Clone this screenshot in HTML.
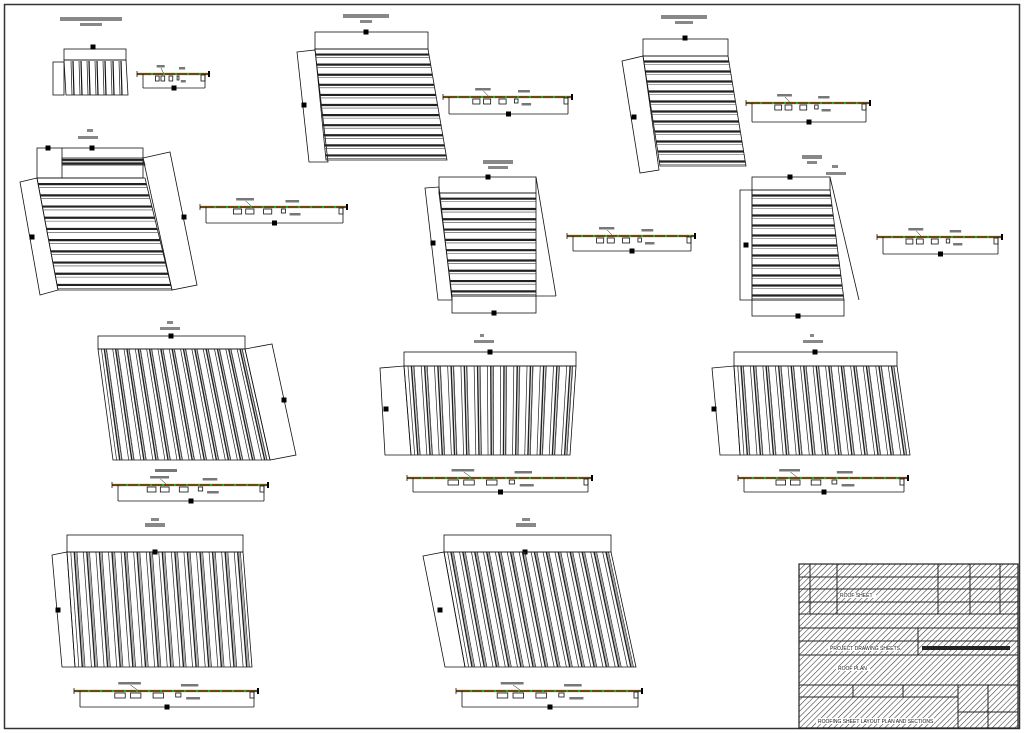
<!DOCTYPE html>
<html><head><meta charset="utf-8"><style>
html,body{margin:0;padding:0;background:#fff;width:1024px;height:733px;overflow:hidden}
svg{display:block}
text{font-family:"Liberation Sans",sans-serif;font-size:5px;fill:#111}
</style></head><body>
<svg id="s" width="1024" height="733" viewBox="0 0 1024 733" xmlns="http://www.w3.org/2000/svg">
<defs>
<pattern id="h" width="4" height="4" patternUnits="userSpaceOnUse" patternTransform="rotate(45)">
<line x1="0" y1="0" x2="0" y2="4" stroke="#333" stroke-width="1.1"/>
</pattern>
</defs>
<rect x="4.5" y="4.5" width="1015" height="724" fill="none" stroke="#333" stroke-width="1.5"/>
<g id="g" fill="none" stroke="#111" stroke-width="0.8"></g>
<g id="tb">
<rect x="799" y="564" width="219" height="164" fill="url(#h)" stroke="#222" stroke-width="1.2"/>
<g stroke="#222" stroke-width="1" fill="none">
<line x1="799" y1="577" x2="1018" y2="577"/><line x1="799" y1="589" x2="1018" y2="589"/>
<line x1="799" y1="602" x2="1018" y2="602"/><line x1="799" y1="614" x2="1018" y2="614"/>
<line x1="799" y1="628" x2="1018" y2="628"/><line x1="799" y1="641" x2="1018" y2="641"/>
<line x1="799" y1="655" x2="1018" y2="655"/><line x1="799" y1="685" x2="1018" y2="685"/>
<line x1="799" y1="697" x2="958" y2="697"/>
<line x1="810" y1="564" x2="810" y2="614"/><line x1="837" y1="564" x2="837" y2="614"/>
<line x1="938" y1="564" x2="938" y2="614"/><line x1="970" y1="564" x2="970" y2="614"/>
<line x1="1000" y1="564" x2="1000" y2="614"/>
<line x1="918" y1="628" x2="918" y2="655"/>
<line x1="853" y1="685" x2="853" y2="697"/><line x1="903" y1="685" x2="903" y2="697"/>
<line x1="958" y1="685" x2="958" y2="728"/><line x1="988" y1="685" x2="988" y2="728"/>
<line x1="958" y1="712" x2="1018" y2="712"/>
</g>
<g fill="#fff">
<rect x="840" y="593" width="36" height="5"/>
<rect x="828" y="646" width="72" height="5"/><rect x="922" y="646" width="88" height="4" fill="#222"/>
<rect x="836" y="666" width="34" height="5"/>
<rect x="816" y="718" width="118" height="6"/>
</g>
<text x="840" y="597">ROOF SHEET</text>
<text x="830" y="650">PROJECT DRAWING SHEETS</text>
<text x="838" y="670">ROOF PLAN</text>
<text x="818" y="723">ROOFING SHEET LAYOUT PLAN AND SECTIONS</text>
</g>
</svg>
<script>
var g=document.getElementById('g'),NS='http://www.w3.org/2000/svg';
function el(t,a){var e=document.createElementNS(NS,t);for(var k in a)e.setAttribute(k,a[k]);g.appendChild(e);return e;}
function poly(p,extra){var a={points:p.map(function(q){return q.join(',')}).join(' ')};for(var k in extra)a[k]=extra[k];return el('polygon',a);}
function line(a,b,c,d,w,col){return el('line',{x1:a,y1:b,x2:c,y2:d,'stroke-width':w||0.8,stroke:col||'#111'});}
function rect(x,y,w,h){return el('rect',{x:x,y:y,width:w,height:h});}
function bar(x,y,w,h,c){return el('rect',{x:x,y:y,width:w,height:h,fill:c||'#888',stroke:'none'});}
function lerp(a,b,t){return [a[0]+(b[0]-a[0])*t,a[1]+(b[1]-a[1])*t];}
function hpanel(TL,TR,BR,BL,n){
 poly([TL,TR,BR,BL]);
 for(var i=0;i<n;i++){var t=(i+0.55)/n;
  var L=lerp(TL,BL,t),R=lerp(TR,BR,t);
  line(L[0],L[1],R[0],R[1],2.2,'#222');
  var t2=(i+0.85)/n;L=lerp(TL,BL,t2);R=lerp(TR,BR,t2);line(L[0],L[1],R[0],R[1],0.6,'#444');}
}
function vpanel(TL,TR,BR,BL,n){
 poly([TL,TR,BR,BL]);
 for(var i=0;i<n;i++){var t=(i+0.3)/n;
  [0,0.02,0.035].forEach(function(o,j){var T=lerp(TL,TR,t+o),B=lerp(BL,BR,t+o);line(T[0],T[1],B[0],B[1],j==1?1.4:0.7,'#222');});
  var t2=(i+0.7)/n;var T=lerp(TL,TR,t2),B=lerp(BL,BR,t2);line(T[0],T[1],B[0],B[1],0.5,'#555');
 }
}
function mark(x,y){bar(x-2.5,y-2.5,5,5,'#000');}
function section(x1,x2,y,h){
 line(x1-6,y,x2+4,y,2.2,'#6b4a12');
 for(var x=x1+8;x<x2;x+=12)bar(x,y-1,2,2,'#2a2');
 line(x1,y,x1,y+h);line(x2,y,x2,y+h);line(x1,y+h,x2,y+h);
 var w=x2-x1;
 [0.2,0.29,0.42].forEach(function(f){rect(x1+w*f,y+2,w*0.06,5);});
 rect(x1+w*0.55,y+2,w*0.03,4);rect(x2-4,y+1,4,6);
 bar(x1+w*0.22,y-9,w*0.13,2.5,'#777');line(x1+w*0.29,y-6,x1+w*0.33,y-1,0.5);
 bar(x1+w*0.58,y-7,w*0.1,2.5,'#777');bar(x1+w*0.61,y+6,w*0.08,2.5,'#777');
 mark(x1+w*0.5,y+h);
 line(x1-6,y-3,x1-6,y+3);line(x2+4,y-3,x2+4,y+3,2,'#000');
}
function title(cx,y,w1,w2){bar(cx-w1/2,y,w1,4,'#888');if(w2)bar(cx-w2/2,y+6,w2,3,'#888');}

title(91,17,62,22);
rect(64,49,62,11);mark(93,47);
rect(53,62,11,33);
poly([[64,60],[126,60],[128,95],[66,95]]);
for(var x=71;x<126;x+=8){line(x,61,x+1,95,0.7);line(x+2,61,x+3,95,1.2);}
section(143,205,74,14);
title(366,14,46,12);
rect(315,32,113,17);mark(366,32);
poly([[297,52],[315,50],[328,162],[309,162]]);mark(304,105);
hpanel([315,49],[428,49],[447,160],[326,160],11);
section(449,568,97,17);
title(684,15,46,18);
rect(643,39,85,17);mark(685,38);
poly([[622,61],[643,56],[659,170],[640,173]]);mark(634,117);
hpanel([643,56],[728,56],[746,166],[660,166],11);
section(752,866,103,19);
title(812,155,20,10);
bar(87,129,6,3,'#888');bar(78,136,20,3,'#888');
rect(37,148,106,30);line(62,148,62,178);mark(92,148);mark(48,148);
poly([[20,182],[37,178],[58,290],[40,295]]);mark(32,237);
poly([[143,158],[170,152],[197,285],[172,290]]);mark(184,217);
hpanel([62,158],[143,158],[145,165],[62,165],2);
hpanel([37,178],[145,178],[172,290],[58,290],10);
section(206,343,207,16);
title(498,160,30,20);
rect(439,177,97,16);mark(488,177);
poly([[425,188],[439,187],[452,300],[438,300]]);mark(433,243);
line(536,177,556,296);line(556,296,536,296);
hpanel([439,193],[536,193],[536,296],[452,296],10);
rect(452,296,84,17);mark(494,313);
section(573,691,236,15);
bar(832,165,6,3,'#888');bar(826,172,20,3,'#888');
rect(752,177,78,13);mark(790,177);
poly([[740,190],[752,190],[752,300],[740,300]]);mark(746,245);
line(830,177,859,300);
hpanel([752,190],[830,190],[844,300],[752,300],11);
rect(752,300,92,16);mark(798,316);
section(883,998,237,17);
bar(167,321,6,3,'#888');bar(160,327,20,3,'#888');
rect(98,336,147,13);mark(171,336);
poly([[245,349],[272,344],[296,455],[270,460]]);mark(284,400);
vpanel([98,349],[245,349],[270,460],[113,460],13);
section(118,264,485,16);bar(155,469,22,3,'#777');
bar(480,334,4,3,'#888');bar(474,340,20,3,'#888');
rect(404,352,172,14);mark(490,352);
poly([[380,368],[404,366],[411,455],[385,455]]);mark(386,409);
vpanel([404,366],[576,366],[570,455],[411,455],13);
section(413,588,478,14);
bar(810,334,4,3,'#888');bar(803,340,20,3,'#888');
rect(734,352,163,14);mark(815,352);
poly([[712,368],[734,366],[740,455],[720,455]]);mark(714,409);
vpanel([734,366],[897,366],[910,455],[740,455],13);
section(744,904,478,14);
bar(151,518,8,3,'#888');bar(145,523,20,4,'#888');
rect(67,535,176,17);mark(155,552);
poly([[52,555],[67,552],[75,667],[62,667]]);mark(58,610);
vpanel([67,552],[243,552],[252,667],[75,667],14);
section(80,254,691,16);
bar(522,518,8,3,'#888');bar(516,523,20,4,'#888');
rect(444,535,167,17);mark(525,552);
poly([[423,556],[444,552],[465,667],[445,667]]);mark(440,610);
vpanel([444,552],[611,552],[636,667],[465,667],14);
section(462,638,691,16);
</script>
</body></html>
